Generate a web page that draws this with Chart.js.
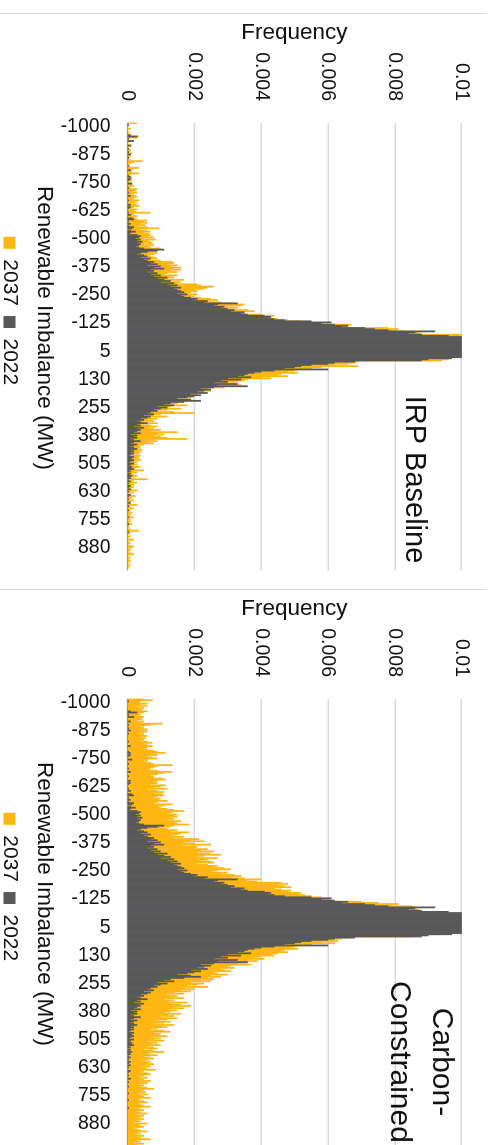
<!DOCTYPE html>
<html>
<head>
<meta charset="utf-8">
<script src="https://cdn.jsdelivr.net/npm/chart.js@4/dist/chart.umd.min.js"></script>
<style>
  html, body { margin: 0; padding: 0; background: #fff; }
  body { width: 494px; height: 1145px; position: relative; overflow: hidden; }
  .panel { position: absolute; left: 0; top: 0; transform-origin: 0 0; }
  #baseline { transform: translate(494px, 13px) rotate(90deg); }
  #carbon { transform: translate(494px, 589px) rotate(90deg); }
  .rule { position: absolute; left: 0; width: 487px; height: 1px; background: #d9d9d9; }
</style>
</head>
<body>
<div class="rule" style="top:13px"></div>
<div class="rule" style="top:589px"></div>
<canvas id="baseline" class="panel" width="576" height="505"></canvas>
<canvas id="carbon" class="panel" width="576" height="505"></canvas>
<script>
// 5 MW bins from -1000 MW, one bar each
const binStart = -1000;
const binWidth = 5;
const binCount = 400;
const binLabels = Array.from({length: binCount}, (_, i) => String(binStart + binWidth * i));

// labelled ticks on the imbalance axis
const tickLabels = [-1000, -875, -750, -625, -500, -375, -250, -125, 5, 130, 255, 380, 505, 630, 755, 880];

// frequency of each bin, in units of 1/10000
const freq2022 = [
  0,0,0.5,0,0, 0,0,0,0,0, 0,1,3,0,0.5, 0,2,0,0,0, 1,0,0,0.5,0,
  0,0.5,0,1,0, 0,0.5,0,0,0, 0,0,0,0.5,0, 0,0,1,0,0, 0,0,0.5,1,0,
  1,0.5,0,0,1.5, 0,0,0,0.5,0, 0,0,0.5,0,0, 1,0,0,0,0.5, 0,0,0,1,0,
  1,0.5,0,0,0, 0.5,0,1,0,0, 1.5,2,0,0.5,0, 1,0,0.5,2,1.5, 0,1,2.5,1,0.5,
  3,4,3.5,2.5,4, 3,4.5,3,4,3.5, 2.5,3.5,5,11,9, 6,4,3,5,6, 4,7,5,6,8,
  7,9,6,10,8, 11,7,8,6,9, 7,10,8,12,9, 11,13,10,14,12, 15,13,16,14,15,
  16,17,15,18,16, 17,19,21,20,24, 23,33,27,26,29, 28,30,32,31,35, 34,36,41,43,42,
  44,47,55,61,58, 62,66,64,71,74, 78,92,86,84,88, 96,108,114,120,124, 128,132,135,138,140,
  142,140,138,135,131, 127,123,118,112,106, 97,90,88,68,62, 60,55,52,50,47, 60,44,40,38,36,
  35,33,37,30,34, 28,30,26,33,27, 36,26,22,25,23, 21,24,19,22,20, 18,15,19,22,17,
  13,11,14,9,12, 10,8,9,7,6, 8,5,7,6,4, 5,3,4,6,3, 4,2,5,3,4,
  3,2,4,1,3, 2,3,1,2,4, 2,1,3,2,1, 2,3,1,2,1, 2,1,0.5,2,1,
  1.5,2,1,0.5,2, 1,0.5,1.5,1,2, 0.5,1,0,1,0.5, 1.5,0.5,1,0,0.5, 1,0,0.5,0,1,
  0.5,0,1,0,0.5, 0,0,1,0.5,0, 0,0.5,0,0,1, 0,0,0.5,0,0, 0,0.5,0,0,0,
  0,0,0.5,0,0, 0,0,0,0.5,0, 0,0,0,0,0, 0.5,0,0,0,0, 0,0,0,0,0,
  0,0,0,0,0, 0,0,0,0,0, 0,0,0,0,0, 0,0,0,0,0, 0,0,0,0,0
];

const freq2037Baseline = [
  3,0,0.5,0,0, 1,0,0,0.5,0, 1,0,3.5,3,0, 0,1,0.5,0,0, 1.5,1,0,0.5,1,
  1,0,1.5,0.5,1, 1,0.5,0,1,4.5, 2,1,0,0.5,1, 3.5,2,1,1.5,1, 3.5,1,0.5,1,1.5,
  1,1.5,0.5,1,1, 1.5,2,1,0.5,3, 2.5,1.5,3,2,1, 2.5,3,1.5,2,3.5, 2,3,1,2.5,3.5,
  2,1.5,3,2,2.5, 7,2,1.5,3,2, 2.5,3,6,5,6, 4,5.5,3,6,9.5, 4,6,7,5,6.5,
  7,6,8,5,8.5, 6,7,7.5,5,8, 6,7,10,9,8, 6.5,9,8,6,7, 8.5,9,7,10,13.5,
  14,12,15,13,16, 14,16,13,15,12, 11,15,13,14,12, 17,13,16,15,21, 22,26,24,23,20,
  21,19,18,21,19, 20,22,25,27,24, 28,32,35,34,30, 33,29,36,38,33, 35,40,44,42,43,
  45,48,52,55,57, 67,64,66,78,81, 79,83,87,88,100, 105,95,100,105,108, 110,112,115,118,120,
  118,115,112,110,108, 105,102,100,98,96, 95,96,94,69,68, 66,62,69,58,55, 51,50,48,51,46,
  45,48,40,43,36, 35,33,30,28,34, 26,29,24,22,25, 20,23,18,21,16, 19,14,17,21,13,
  15,12,18,13,11, 16,12,9,14,20, 10,8,12,7,9, 6,8,5,9,4, 7,9,6,8,10,
  7,15,9,11,8, 10,12,18,7,9, 6,8,5,4,3.5, 4,3,4.5,3,4, 3.5,2,4,3,3.5,
  2.5,4,2,3,1.5, 3,2,4,2.5,1.5, 5,2,3,1.5,2, 3,1,2,6,2, 1.5,3,1,2,1,
  2,1,1.5,3,1, 2,0.5,1,2.5,1, 1.5,0.5,2,1,0.5, 1,3,0.5,1,2, 0.5,1,0,1.5,0.5,
  1,0.5,2,0,1, 0.5,1,0,1.5,0.5, 0.5,0.5,0,1,3.5, 0,1,0.5,0,1, 0.5,0,2,0.5,0,
  1,0,0.5,2,1.5, 0,1,0.5,0,1, 2,0.5,0,1,0, 0.5,1,0,0.5,0, 1,0,0.5,0,0
];

const freq2037Carbon = [
  5,7.5,4,3.5,6, 4,6,3,5,4, 4.5,6,5,3.5,4, 3,5,4,4.5,3, 5,4,10.5,7,5,
  4,5,6,4.5,6, 5,3.5,5,6,4, 5.5,5,4,6,7.5, 5,6,7.5,6,5, 6,8,9,11.5,7,
  9,6,7.5,9,6, 6,5,7,8,13.5, 9,8,7,6,9, 13.5,11,9,7,8, 8,10.5,11.5,9,8,
  9,7,11.5,10,8, 12,6,9,11,8, 10.5,11,9,8,10, 9,12,9,8,13.5, 11,9,10,12,14,
  17,13.5,12,15,14, 15,13,14,12,16, 14,15,18.5,14,13, 10,12,15,13,18.5, 16,15,13,17,14,
  21.5,19,23,17,20, 25,16,21,20,24, 22,26,21,25,28, 23,21,27,24,22, 25,26,21,24,27,
  26,29,31,27,25, 30,28,32,34,31, 35,40,36,39,46, 48,45,47,49,44, 46,49,48,52,51,
  53,55,58,61,60, 62,70,75,81,79, 85,86,84,87,85, 86,95,98,100,102, 104,106,108,110,111,
  112,111,110,108,106, 104,102,100,97,95, 93,86,85,66,64, 60,63,58,62,55, 52,50,49,51,47,
  46,48,45,43,44, 40,38,41,36,39, 35,33,37,31,30, 32,28,29,31,26, 27,30,25,28,24,
  26,22,25,19,23, 21,18,24,17,20, 16,19,14,17,12, 15,13,17,11,14, 12,18,13,16,19,
  14,17,12,15,13, 11,16,12,14,10, 15,12,9,13,11, 8,14,10,12,9, 7,11,13,8,10,
  9,12,7,10,8, 11,6,9,7,10, 6,8,9,5,8, 11,7,6,9,5, 7,8,6,4.5,7,
  6,8,5,7,4.5, 6,8.5,5,4,6, 7,5,3.5,6,4, 5,7,4,6,3.5, 5,4,6,8,5,
  4,5.5,3,6,4, 5,7,4,3,5, 6,3.5,4,5,7, 4,3,5,2.5,4, 6,3,5,4,3,
  5,3,4,2,6, 3.5,4,5,2,3, 4,6,3,4,2.5, 5,3,4,7,3, 4,2,5,3,4
];

const ORANGE = '#FFB612';
const GREY = '#58595B';
const TEXT = '#111';
const FONT = '"Liberation Sans", Arial, sans-serif';

Chart.defaults.font.family = FONT;
Chart.defaults.color = TEXT;

// free text drawn on the canvas: scenario name in the plot, axis caption under the ticks
const canvasText = {
  id: 'canvasText',
  afterDraw(chart, args, opts) {
    const ctx = chart.ctx;
    ctx.save();
    ctx.fillStyle = TEXT;
    ctx.textAlign = 'center';
    opts.items.forEach(t => {
      ctx.font = t.size + 'px ' + FONT;
      ctx.textBaseline = t.baseline || 'alphabetic';
      t.lines.forEach((line, i) => ctx.fillText(line, t.x, t.y + i * (t.gap || 0)));
    });
    ctx.restore();
  }
};

function makePanel(id, data2037, scenario) {
  return new Chart(document.getElementById(id), {
    type: 'bar',
    data: {
      labels: binLabels,
      datasets: [
        {
          label: '2037',
          data: data2037.map(v => v / 10000),
          backgroundColor: ORANGE,
          order: 1
        },
        {
          label: '2022',
          data: freq2022.map(v => v / 10000),
          backgroundColor: GREY,
          order: 0
        }
      ]
    },
    options: {
      responsive: false,
      devicePixelRatio: 1,
      animation: false,
      datasets: {
        bar: { grouped: false, barPercentage: 1, categoryPercentage: 1, borderWidth: 0 }
      },
      layout: { padding: { left: 38.5, right: 18.5, top: 32.3, bottom: 0 } },
      scales: {
        x: {
          offset: true,
          grid: { display: false, drawTicks: false },
          border: { display: false },
          ticks: {
            autoSkip: false,
            minRotation: 90,
            maxRotation: 90,
            padding: 16.5,
            labelOffset: 3.5,
            font: { size: 19.5 },
            callback(v) {
              const lab = this.getLabelForValue(v);
              return tickLabels.includes(Number(lab)) ? lab : '';
            }
          },
          afterFit(s) { s.height = 97; s.paddingLeft = 0; s.paddingRight = 0; }
        },
        y: {
          min: 0,
          max: 0.01,
          grid: { color: '#d9d9d9', lineWidth: 1.5, drawTicks: false },
          border: { display: false },
          ticks: {
            stepSize: 0.002,
            padding: 21.5,
            font: { size: 19.5 },
            callback: v => String(Math.round(v * 1000) / 1000)
          },
          title: {
            display: true,
            text: 'Frequency',
            font: { size: 22.5 },
            padding: { top: -32, bottom: 0 }
          },
          afterFit(s) { s.width = 71; s.paddingTop = 0; s.paddingBottom = 0; }
        }
      },
      plugins: {
        tooltip: { enabled: false },
        legend: {
          position: 'bottom',
          labels: {
            boxWidth: 12,
            boxHeight: 12,
            padding: 10,
            font: { size: 21 },
            sort: (a, b) => a.datasetIndex - b.datasetIndex
          }
        },
        canvasText: {
          items: [
            scenario,
            { lines: ['Renewable Imbalance (MW)'], x: 315, y: 450, size: 22.5, baseline: 'middle' }
          ]
        }
      }
    },
    plugins: [canvasText]
  });
}

makePanel('baseline', freq2037Baseline, { lines: ['IRP Baseline'], x: 466.5, y: 88, size: 29 });
makePanel('carbon', freq2037Carbon, { lines: ['Carbon-', 'Constrained'], x: 473, y: 61, gap: 42, size: 30 });
</script>
</body>
</html>
